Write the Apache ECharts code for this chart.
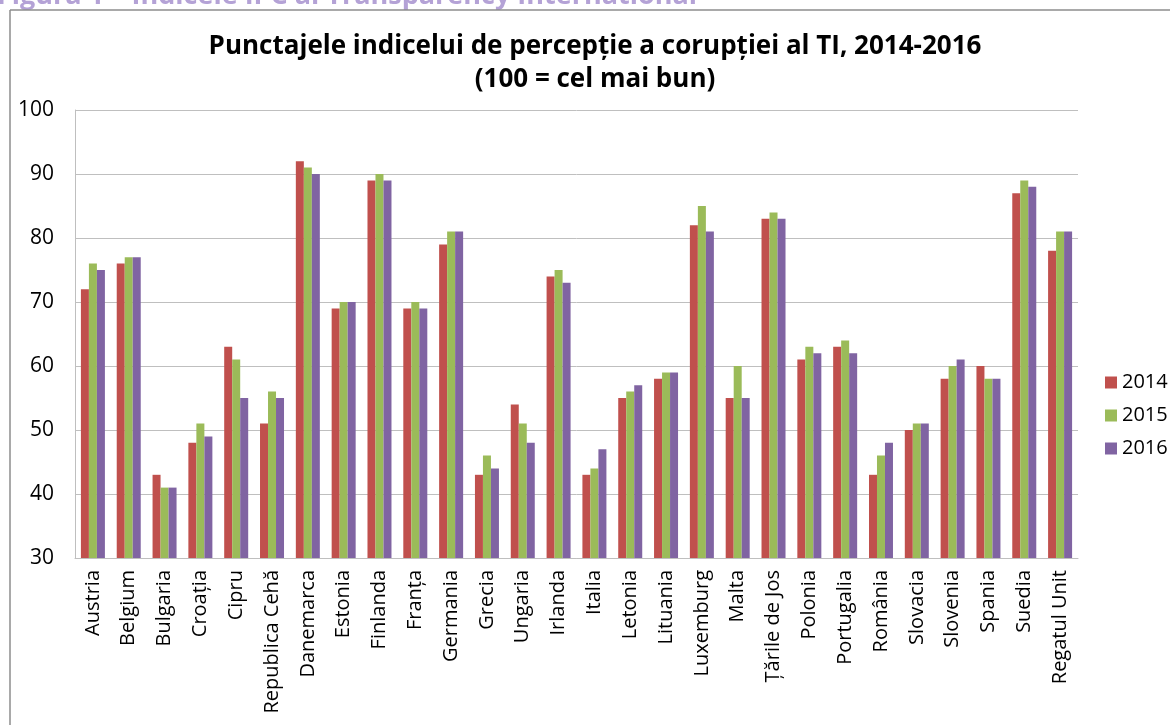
<!DOCTYPE html>
<html>
<head>
<meta charset="utf-8">
<title>Indicele IPC</title>
<script src="https://cdn.jsdelivr.net/npm/echarts@6/dist/echarts.min.js"></script>
<style>
  html, body { margin: 0; padding: 0; background: #fff; }
  #chart { width: 1170px; height: 725px; }
</style>
</head>
<body>
<div id="chart"></div>
<script>
const countries = ['Austria', 'Belgium', 'Bulgaria', 'Croația', 'Cipru', 'Republica Cehă', 'Danemarca',
  'Estonia', 'Finlanda', 'Franța', 'Germania', 'Grecia', 'Ungaria', 'Irlanda', 'Italia', 'Letonia',
  'Lituania', 'Luxemburg', 'Malta', 'Țările de Jos', 'Polonia', 'Portugalia', 'România', 'Slovacia',
  'Slovenia', 'Spania', 'Suedia', 'Regatul Unit'];
const years = ['2014', '2015', '2016'];
const scores2014 = [72, 76, 43, 48, 63, 51, 92, 69, 89, 69, 79, 43, 54, 74, 43, 55, 58, 82, 55, 83, 61, 63, 43, 50, 58, 60, 87, 78];
const scores2015 = [76, 77, 41, 51, 61, 56, 91, 70, 90, 70, 81, 46, 51, 75, 44, 56, 59, 85, 60, 84, 63, 64, 46, 51, 60, 58, 89, 81];
const scores2016 = [75, 77, 41, 49, 55, 55, 90, 70, 89, 69, 81, 44, 48, 73, 47, 57, 59, 81, 55, 83, 62, 62, 48, 51, 61, 58, 88, 81];
const yTicks = [30, 40, 50, 60, 70, 80, 90, 100];

const colors = ['#c0504d', '#9bbb59', '#8064a2'];
const chart = echarts.init(document.getElementById('chart'));

const allScores = [scores2014, scores2015, scores2016];

chart.setOption({
  animation: false,
  color: colors,
  textStyle: { fontFamily: 'Open Sans' },
  title: {
    text: 'Punctajele indicelui de percepție a corupției al TI, 2014-2016\n(100 = cel mai bun)',
    left: 590,
    textAlign: 'center',
    top: 25,
    textStyle: { fontFamily: 'Open Sans', fontWeight: 'bold', fontSize: 26, lineHeight: 33, color: '#000' }
  },
  graphic: [
    { type: 'text', left: -3, top: -17,
      style: { text: 'Figura 1 – Indicele IPC al Transparency International', fill: '#b4a2d6',
        font: 'bold 27px "Open Sans"' } },
    { type: 'line', shape: { x1: 10, y1: 10, x2: 1170, y2: 10 }, style: { stroke: '#8c8c8c', lineWidth: 1.5 } },
    { type: 'line', shape: { x1: 10, y1: 10, x2: 10, y2: 725 }, style: { stroke: '#8c8c8c', lineWidth: 1.5 } }
  ],
  legend: {
    orient: 'vertical',
    left: 1100,
    top: 367,
    itemWidth: 12,
    itemHeight: 12,
    itemGap: 12,
    icon: 'rect',
    textStyle: { fontSize: 20, lineHeight: 21, color: '#000' },
    data: years
  },
  grid: { left: 75, right: 92, top: 110, bottom: 167 },
  xAxis: {
    type: 'category',
    data: countries,
    axisLine: { lineStyle: { color: '#bfbfbf' } },
    axisTick: { show: false },
    axisLabel: { rotate: 90, fontSize: 20, color: '#000', margin: 12, interval: 0 }
  },
  yAxis: {
    type: 'value',
    min: yTicks[0],
    max: yTicks[yTicks.length - 1],
    interval: 10,
    axisLine: { show: true, lineStyle: { color: '#bfbfbf' } },
    axisTick: { show: false },
    splitLine: { lineStyle: { color: '#bfbfbf' } },
    axisLabel: { fontSize: 21, color: '#000', margin: 21 }
  },
  series: years.map((y, i) => ({
    name: y,
    type: 'bar',
    data: allScores[i],
    barGap: '0%',
    barCategoryGap: '33%'
  }))
});
</script>
</body>
</html>
